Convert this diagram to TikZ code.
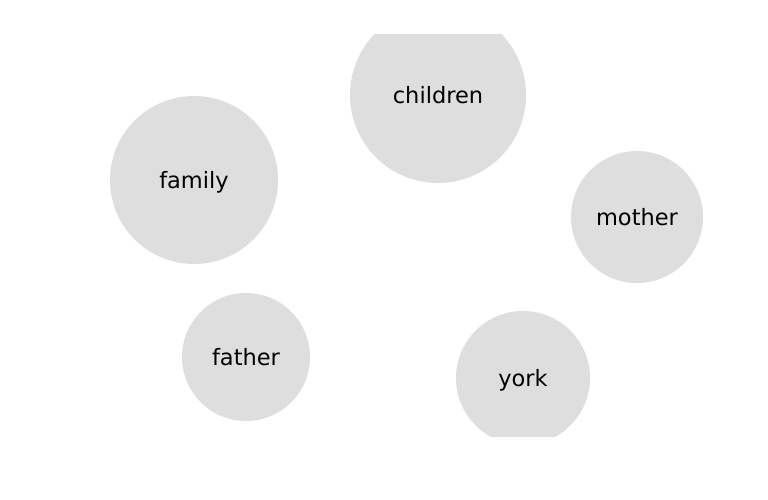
\documentclass[tikz,border=0pt]{standalone}
\usepackage{fontspec}
\setmainfont{DejaVu Sans}
\definecolor{bubble}{HTML}{DEDEDE}
\begin{document}
\begin{tikzpicture}[x=1pt,y=-1pt,
  bubblenode/.style={circle,fill=bubble,draw=none,inner sep=0pt,
    font=\fontsize{22.5}{26}\selectfont,text height=21pt,text depth=4pt}]
\useasboundingbox (0,0) rectangle (768,500);
\begin{scope}
\clip (0,35) rectangle (768,436);
\node[bubblenode,minimum size=176pt] (children) at (438,95) {children};
\node[bubblenode,minimum size=168pt] (family) at (194,180) {family};
\node[bubblenode,minimum size=132pt] (mother) at (637,217) {mother};
\node[bubblenode,minimum size=128pt] (father) at (246,357) {father};
\node[bubblenode,minimum size=134pt] (york) at (523,378) {york};
\end{scope}
\end{tikzpicture}
\end{document}
